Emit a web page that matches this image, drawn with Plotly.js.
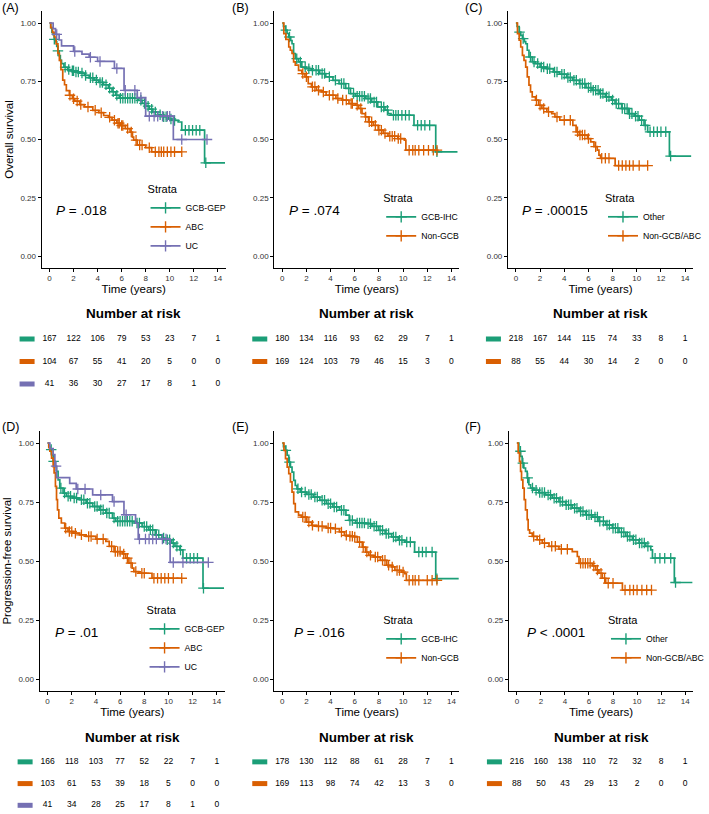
<!DOCTYPE html>
<html><head><meta charset="utf-8">
<script src="https://cdn.plot.ly/plotly-3.0.1.min.js"></script>
<style>html,body{margin:0;padding:0;background:#fff}#chart{width:709px;height:814px}</style>
</head><body><div id="chart"></div>
<script>
// ---------- DATA ----------
const riskTimes = [0, 2, 4, 6, 8, 10, 12, 14];

// Panel A: Overall survival by GEP
const A_GCB_GEP_t = [0,0.1,0.2,0.3,0.4,0.5,0.6,0.7,0.8,0.9,1.0,1.2,1.5,1.8,2.1,2.5,2.9,3.3,3.7,4.1,4.5,4.9,5.2,5.5,5.8,7.4,7.7,8.0,8.3,8.6,9.0,9.4,9.9,10.3,10.7,11.0,12.9,14.6];
const A_GCB_GEP_s = [1.0,0.98,0.96,0.95,0.93,0.92,0.9,0.88,0.86,0.84,0.826,0.81,0.80,0.795,0.79,0.785,0.775,0.765,0.755,0.745,0.735,0.72,0.705,0.69,0.677,0.668,0.655,0.643,0.63,0.618,0.606,0.598,0.588,0.582,0.575,0.54,0.40,0.40];
const A_GCB_GEP_cens = [0.4,0.7,1.3,1.6,1.9,2.0,2.2,2.4,2.7,3.0,3.4,3.6,3.9,4.2,4.4,4.7,5.0,5.3,5.6,5.9,6.1,6.3,6.5,6.7,6.9,7.1,7.3,7.6,7.9,8.2,8.5,8.8,9.2,9.5,9.7,10.1,10.4,11.3,11.6,11.9,12.2,12.5,13.0];
const A_ABC_t = [0,0.1,0.25,0.4,0.55,0.7,0.82,0.95,1.1,1.25,1.4,1.65,1.9,2.1,2.5,2.9,3.6,4.1,4.5,4.9,5.2,5.6,5.9,6.3,6.7,6.9,7.0,7.3,8.0,8.5,11.0];
const A_ABC_s = [1.0,0.98,0.96,0.94,0.91,0.87,0.84,0.80,0.755,0.735,0.71,0.69,0.675,0.665,0.65,0.64,0.625,0.615,0.603,0.595,0.583,0.57,0.56,0.547,0.532,0.51,0.497,0.476,0.465,0.447,0.447];
const A_ABC_cens = [1.7,2.0,2.3,2.6,3.2,3.8,4.3,5.0,5.4,5.7,5.8,6.0,6.1,6.5,6.8,7.2,7.5,7.7,8.3,8.8,9.1,9.3,9.5,9.8,10.1,10.4,11.0];
const A_UC_t = [0,0.3,0.5,0.8,1.0,2.0,2.7,3.3,4.0,5.4,6.2,7.3,8.0,10.3,13.1];
const A_UC_s = [1.0,0.976,0.951,0.927,0.902,0.878,0.866,0.853,0.835,0.805,0.711,0.68,0.60,0.50,0.50];
const A_UC_cens = [0.6,2.1,3.4,4.2,5.6,6.3,7.1,7.6,8.3,8.7,9.0,9.4,9.8,10.0,11.0,13.1];
const A_risk_GCB_GEP = [167,122,106,79,53,23,7,1];
const A_risk_ABC = [104,67,55,41,20,5,0,0];
const A_risk_UC = [41,36,30,27,17,8,1,0];

// Panel B: Overall survival by IHC
const B_GCB_IHC_t = [0,0.1,0.27,0.4,0.54,0.7,0.81,0.94,1.08,1.35,1.62,2.0,2.4,3.1,3.6,4.2,4.7,5.25,5.65,6.06,6.9,7.4,7.9,8.5,8.75,9.0,10.9,12.7,14.5];
const B_GCB_IHC_s = [1.0,0.985,0.969,0.955,0.94,0.925,0.911,0.869,0.847,0.833,0.811,0.804,0.797,0.783,0.769,0.754,0.74,0.719,0.697,0.686,0.676,0.661,0.64,0.626,0.611,0.604,0.561,0.447,0.447];
const B_GCB_IHC_cens = [0.3,0.6,1.2,1.5,1.9,2.2,2.5,2.8,3.0,3.3,3.5,3.9,4.4,4.9,5.1,5.5,5.9,6.2,6.4,6.6,6.8,7.1,7.3,7.6,7.8,8.2,8.4,8.7,9.2,9.4,9.6,9.9,10.2,10.5,11.2,11.5,11.8,12.2,12.8];
const B_NonGCB_t = [0,0.13,0.3,0.54,0.67,0.81,0.94,1.08,1.35,1.62,1.88,2.15,2.42,2.83,3.23,3.63,4.44,4.98,5.52,6.06,6.33,6.6,6.87,7.14,7.54,7.94,8.35,8.75,9.56,10.1,10.23,12.8];
const B_NonGCB_s = [1.0,0.954,0.93,0.897,0.883,0.869,0.833,0.819,0.797,0.783,0.769,0.74,0.726,0.711,0.704,0.69,0.676,0.669,0.654,0.647,0.633,0.611,0.597,0.576,0.561,0.54,0.526,0.514,0.504,0.497,0.454,0.454];
const B_NonGCB_cens = [1.7,2.0,2.5,2.7,3.0,3.4,3.9,4.2,4.6,5.0,5.3,5.7,5.8,6.2,6.5,6.9,7.2,7.4,7.7,8.0,8.2,8.5,8.9,9.1,9.3,9.6,9.8,10.5,10.8,11.0,11.3,11.7,12.1,12.5,12.8];
const B_risk_GCB_IHC = [180,134,116,93,62,29,7,1];
const B_risk_NonGCB = [169,124,103,79,46,15,3,0];

// Panel C: Overall survival, Other vs Non-GCB/ABC
const C_Other_t = [0,0.1,0.27,0.4,0.54,0.7,0.81,0.94,1.08,1.35,1.62,2.0,2.56,3.1,3.6,4.2,4.7,5.25,5.8,6.3,6.9,7.4,7.9,8.2,8.75,9.3,9.8,10.2,10.6,10.9,12.7,14.5];
const C_Other_s = [1.0,0.985,0.961,0.947,0.933,0.92,0.911,0.883,0.854,0.833,0.826,0.811,0.804,0.79,0.78,0.766,0.754,0.74,0.723,0.711,0.697,0.683,0.669,0.654,0.633,0.611,0.6,0.583,0.561,0.533,0.429,0.429];
const C_Other_cens = [0.3,0.6,1.2,1.5,1.8,2.1,2.3,2.6,2.8,3.2,3.4,3.8,4.0,4.3,4.5,4.8,5.0,5.3,5.5,5.7,6.0,6.2,6.4,6.6,6.8,7.0,7.2,7.5,7.7,8.0,8.3,8.5,8.8,9.0,9.2,9.4,9.6,9.9,10.1,10.4,10.7,11.1,11.4,11.7,12.0,12.4,12.8];
const C_NonGCBABC_t = [0,0.13,0.27,0.4,0.54,0.67,0.81,0.94,1.08,1.21,1.35,1.62,1.88,2.15,2.56,2.96,3.23,3.63,4.71,4.98,5.25,5.92,6.19,6.46,6.73,6.87,7.0,8.21,10.9];
const C_NonGCBABC_s = [1.0,0.954,0.926,0.897,0.861,0.84,0.811,0.769,0.733,0.704,0.683,0.669,0.647,0.633,0.619,0.611,0.597,0.583,0.561,0.533,0.519,0.504,0.49,0.469,0.454,0.433,0.419,0.388,0.388];
const C_NonGCBABC_cens = [1.7,2.0,2.3,2.7,3.4,4.0,4.5,5.1,5.3,5.5,5.7,6.0,6.6,7.1,7.4,7.7,8.5,8.8,9.1,9.4,9.7,10.2,10.9];
const C_risk_Other = [218,167,144,115,74,33,8,1];
const C_risk_NonGCBABC = [88,55,44,30,14,2,0,0];

// Panel D: Progression-free survival by GEP
const D_GCB_GEP_t = [0,0.1,0.19,0.33,0.46,0.6,0.74,0.87,1.01,1.28,1.55,2.1,2.64,3.19,3.73,4.28,4.82,5.37,5.64,7.28,7.82,8.37,8.91,9.46,9.73,10.27,10.54,10.95,11.2,12.86,14.6];
const D_GCB_GEP_s = [1.0,0.985,0.972,0.95,0.922,0.90,0.88,0.844,0.809,0.788,0.774,0.767,0.76,0.745,0.731,0.717,0.703,0.682,0.668,0.661,0.646,0.632,0.611,0.597,0.59,0.576,0.562,0.547,0.512,0.385,0.385];
const D_GCB_GEP_cens = [0.3,0.5,1.1,1.4,1.7,1.9,2.2,2.4,2.8,3.0,3.3,3.5,3.9,4.1,4.4,4.6,4.9,5.1,5.5,5.8,6.0,6.2,6.4,6.6,6.8,7.0,7.4,7.6,8.0,8.2,8.5,8.7,9.0,9.2,9.6,9.9,10.1,10.4,10.7,11.0,11.5,11.8,12.1,12.4,12.9];
const D_ABC_t = [0,0.1,0.19,0.33,0.46,0.54,0.65,0.74,0.82,0.93,1.14,1.42,1.69,2.1,2.64,3.19,4.0,4.82,5.1,5.5,6.19,6.46,6.73,7.0,7.14,7.55,8.64,11.1];
const D_ABC_s = [1.0,0.98,0.965,0.936,0.90,0.873,0.816,0.76,0.717,0.682,0.661,0.639,0.625,0.618,0.611,0.604,0.593,0.583,0.562,0.54,0.53,0.512,0.491,0.47,0.455,0.448,0.427,0.427];
const D_ABC_cens = [1.5,1.8,2.0,2.3,2.8,3.4,3.6,4.1,4.6,5.3,5.6,5.8,6.0,6.3,6.6,6.9,7.3,7.8,8.0,8.8,9.1,9.4,9.7,10.0,10.4,11.1];
const D_UC_t = [0,0.19,0.46,0.6,0.74,1.83,2.37,3.73,5.37,6.32,7.28,7.5,10.14,13.3];
const D_UC_s = [1.0,0.976,0.951,0.902,0.853,0.829,0.805,0.78,0.752,0.696,0.66,0.593,0.494,0.494];
const D_UC_cens = [0.7,2.5,3.1,4.4,5.5,6.5,7.6,8.1,8.4,8.7,9.0,9.5,9.8,10.4,11.2,13.3];
const D_risk_GCB_GEP = [166,118,103,77,52,22,7,1];
const D_risk_ABC = [103,61,53,39,18,5,0,0];
const D_risk_UC = [41,34,28,25,17,8,1,0];

// Panel E: Progression-free survival by IHC
const E_GCB_IHC_t = [0,0.1,0.27,0.41,0.54,0.68,0.81,0.95,1.08,1.22,1.49,2.03,2.57,3.11,3.65,4.19,4.73,5.27,5.54,6.08,6.89,7.43,7.97,8.51,9.05,9.59,10.14,10.95,12.7,14.6];
const E_GCB_IHC_s = [1.0,0.985,0.969,0.948,0.919,0.898,0.877,0.842,0.82,0.806,0.792,0.782,0.771,0.757,0.743,0.729,0.715,0.694,0.672,0.661,0.658,0.647,0.63,0.616,0.602,0.588,0.58,0.538,0.425,0.425];
const E_GCB_IHC_cens = [0.3,0.6,1.3,1.6,1.9,2.2,2.4,2.7,2.9,3.3,3.5,3.8,4.0,4.3,4.5,4.9,5.1,5.6,5.8,6.2,6.4,6.6,6.8,7.1,7.3,7.6,7.8,8.1,8.3,8.6,8.8,9.2,9.4,9.7,9.9,10.3,10.6,11.3,11.6,11.9,12.4,12.8];
const E_NonGCB_t = [0,0.14,0.27,0.41,0.54,0.68,0.81,0.95,1.08,1.35,1.62,2.03,2.43,2.84,3.65,4.19,4.73,5.14,5.54,5.95,6.22,6.62,6.89,7.16,7.57,8.11,8.65,9.05,9.32,9.86,10.14,10.27,12.84];
const E_NonGCB_s = [1.0,0.969,0.934,0.898,0.87,0.835,0.792,0.743,0.708,0.694,0.686,0.665,0.651,0.647,0.64,0.637,0.623,0.609,0.605,0.602,0.58,0.559,0.538,0.524,0.517,0.503,0.482,0.475,0.46,0.453,0.446,0.418,0.418];
const E_NonGCB_cens = [1.7,1.9,2.2,2.5,3.0,3.3,3.8,4.0,4.4,4.9,5.3,5.6,5.8,6.0,6.4,6.7,7.0,7.3,7.7,7.9,8.3,8.5,8.8,9.1,9.5,9.7,10.0,10.5,10.8,11.0,11.3,12.0,12.4,12.8];
const E_risk_GCB_IHC = [178,130,112,88,61,28,7,1];
const E_risk_NonGCB = [169,113,98,74,42,13,3,0];

// Panel F: Progression-free survival, Other vs Non-GCB/ABC
const F_Other_t = [0,0.17,0.31,0.44,0.58,0.72,0.86,1.0,1.14,1.42,1.83,2.39,2.94,3.5,4.06,4.61,5.17,5.72,6.28,6.83,7.39,7.94,8.5,9.06,9.61,10.17,10.72,11.14,11.28,13.1,14.6];
const F_Other_s = [1.0,0.965,0.943,0.915,0.894,0.88,0.852,0.823,0.809,0.80,0.79,0.78,0.766,0.752,0.738,0.724,0.71,0.696,0.686,0.668,0.653,0.639,0.621,0.604,0.59,0.576,0.562,0.547,0.512,0.409,0.409];
const F_Other_cens = [0.3,0.5,0.9,1.3,1.6,1.9,2.1,2.3,2.6,2.8,3.1,3.3,3.6,3.8,4.1,4.3,4.5,4.8,5.0,5.3,5.5,5.8,6.0,6.2,6.5,6.7,6.9,7.2,7.5,7.7,8.0,8.2,8.4,8.7,8.9,9.2,9.4,9.7,9.9,10.2,10.4,10.6,10.9,11.5,11.9,12.3,12.8,13.2];
const F_NonGCBABC_t = [0,0.11,0.22,0.31,0.39,0.5,0.61,0.72,0.86,0.94,1.06,1.28,1.69,2.11,2.67,3.5,4.61,5.03,5.17,6.28,6.56,6.83,7.11,7.39,8.78,11.2];
const F_NonGCBABC_s = [1.0,0.958,0.922,0.88,0.844,0.809,0.76,0.717,0.675,0.632,0.618,0.604,0.59,0.576,0.562,0.55,0.54,0.519,0.49,0.479,0.462,0.448,0.427,0.406,0.377,0.377];
const F_NonGCBABC_cens = [1.4,1.9,2.3,2.9,3.2,3.7,4.2,5.3,5.5,5.7,5.9,6.1,6.4,6.7,7.0,7.3,7.6,8.0,9.0,9.4,9.7,10.0,10.4,10.8,11.2];
const F_risk_Other = [216,160,138,110,72,32,8,1];
const F_risk_NonGCBABC = [88,50,43,29,13,2,0,0];

// ---------- STYLE / LAYOUT ----------
const W = 709, H = 814;
const FONT = 'Liberation Sans, Arial, Helvetica, sans-serif';
const GREEN = '#1B9E77', ORANGE = '#D95F02', PURPLE = '#7570B3';

const topY = [11.35, 267.65], botY = [431.2, 690.8];
const topRisk = {px: [327.75, 395.25], range: [3.5, 0.5]};
const botRisk = {px: [751, 814], range: [3.4, 0.5]};

const panels = [
  {tag: '(A)', tagXY: [0, 8], xpx: [42, 228], ypx: topY, ytitle: 'Overall survival', p: '<i>P</i> = .018', px: 0.07,
   leg: [147, 179], risk: topRisk, nr: 313,
   groups: [
     {name: 'GCB-GEP', color: GREEN, t: A_GCB_GEP_t, s: A_GCB_GEP_s, c: A_GCB_GEP_cens, n: A_risk_GCB_GEP},
     {name: 'ABC', color: ORANGE, t: A_ABC_t, s: A_ABC_s, c: A_ABC_cens, n: A_risk_ABC},
     {name: 'UC', color: PURPLE, t: A_UC_t, s: A_UC_s, c: A_UC_cens, n: A_risk_UC}]},
  {tag: '(B)', tagXY: [232, 8], xpx: [277, 464], ypx: topY, ytitle: '', p: '<i>P</i> = .074', px: 0.07,
   leg: [385, 188], risk: topRisk, nr: 313,
   groups: [
     {name: 'GCB-IHC', color: GREEN, t: B_GCB_IHC_t, s: B_GCB_IHC_s, c: B_GCB_IHC_cens, n: B_risk_GCB_IHC},
     {name: 'Non-GCB', color: ORANGE, t: B_NonGCB_t, s: B_NonGCB_s, c: B_NonGCB_cens, n: B_risk_NonGCB}]},
  {tag: '(C)', tagXY: [468, 8], xpx: [513, 700], ypx: topY, ytitle: '', p: '<i>P</i> = .00015', px: 0.065,
   leg: [609, 188], risk: topRisk, nr: 313,
   groups: [
     {name: 'Other', color: GREEN, t: C_Other_t, s: C_Other_s, c: C_Other_cens, n: C_risk_Other},
     {name: 'Non-GCB/ABC', color: ORANGE, t: C_NonGCBABC_t, s: C_NonGCBABC_s, c: C_NonGCBABC_cens, n: C_risk_NonGCBABC}]},
  {tag: '(D)', tagXY: [0, 427], xpx: [40, 227], ypx: botY, ytitle: 'Progression-free survival', p: '<i>P</i> = .01', px: 0.075,
   leg: [146, 600], risk: botRisk, nr: 737,
   groups: [
     {name: 'GCB-GEP', color: GREEN, t: D_GCB_GEP_t, s: D_GCB_GEP_s, c: D_GCB_GEP_cens, n: D_risk_GCB_GEP},
     {name: 'ABC', color: ORANGE, t: D_ABC_t, s: D_ABC_s, c: D_ABC_cens, n: D_risk_ABC},
     {name: 'UC', color: PURPLE, t: D_UC_t, s: D_UC_s, c: D_UC_cens, n: D_risk_UC}]},
  {tag: '(E)', tagXY: [232, 427], xpx: [277, 464], ypx: botY, ytitle: '', p: '<i>P</i> = .016', px: 0.095,
   leg: [385, 610], risk: botRisk, nr: 737,
   groups: [
     {name: 'GCB-IHC', color: GREEN, t: E_GCB_IHC_t, s: E_GCB_IHC_s, c: E_GCB_IHC_cens, n: E_risk_GCB_IHC},
     {name: 'Non-GCB', color: ORANGE, t: E_NonGCB_t, s: E_NonGCB_s, c: E_NonGCB_cens, n: E_risk_NonGCB}]},
  {tag: '(F)', tagXY: [468, 427], xpx: [514, 700], ypx: botY, ytitle: '', p: '<i>P</i> &lt; .0001', px: 0.085,
   leg: [612, 610], risk: botRisk, nr: 737,
   groups: [
     {name: 'Other', color: GREEN, t: F_Other_t, s: F_Other_s, c: F_Other_cens, n: F_risk_Other},
     {name: 'Non-GCB/ABC', color: ORANGE, t: F_NonGCBABC_t, s: F_NonGCBABC_s, c: F_NonGCBABC_cens, n: F_risk_NonGCBABC}]}
];

function survAt(t, ts, ss) {
  let v = ss[0];
  for (let i = 0; i < ts.length; i++) { if (ts[i] <= t) v = ss[i]; }
  return v;
}
const sfx = k => (k === 1 ? '' : String(k));

const data = [];
const layout = {
  width: W, height: H, margin: {l: 0, r: 0, t: 0, b: 0},
  paper_bgcolor: '#fff', plot_bgcolor: 'rgba(0,0,0,0)',
  font: {family: FONT, color: '#000'},
  showlegend: true, annotations: [], shapes: []
};

const axisCommon = {
  showline: true, linecolor: '#000', linewidth: 1, ticks: 'outside', ticklen: 3, tickwidth: 1,
  tickcolor: '#000', showgrid: false, zeroline: false, automargin: false, fixedrange: true,
  tickfont: {family: FONT, size: 8, color: '#333'}
};

panels.forEach((P, i) => {
  const k = i + 1, r = i + 7;
  const xs = sfx(k), rs = String(r);
  const xd = [P.xpx[0] / W, P.xpx[1] / W];
  const xRange = [-0.66, 14.66];

  layout['xaxis' + xs] = Object.assign({}, axisCommon, {
    domain: xd, range: xRange, anchor: 'y' + xs, tickvals: riskTimes,
    title: {text: 'Time (years)', font: {family: FONT, size: 11.5, color: '#000'}, standoff: 2}
  });
  layout['yaxis' + xs] = Object.assign({}, axisCommon, {
    domain: [1 - P.ypx[1] / H, 1 - P.ypx[0] / H], range: [-0.05, 1.05], anchor: 'x' + xs,
    tickvals: [0, 0.25, 0.5, 0.75, 1], tickformat: '.2f',
    title: {text: P.ytitle, font: {family: FONT, size: 11.5, color: '#000'}, standoff: 4}
  });
  layout['xaxis' + rs] = {domain: xd, range: xRange, anchor: 'y' + rs, visible: false, fixedrange: true};
  layout['yaxis' + rs] = {domain: [1 - P.risk.px[1] / H, 1 - P.risk.px[0] / H], range: P.risk.range,
                          anchor: 'x' + rs, visible: false, fixedrange: true};

  const legName = 'legend' + xs;
  layout[legName] = {
    x: P.leg[0] / W, y: 1 - P.leg[1] / H, xanchor: 'left', yanchor: 'top',
    bgcolor: 'rgba(0,0,0,0)', borderwidth: 0, itemwidth: 30, tracegroupgap: 0, traceorder: 'normal',
    font: {family: FONT, size: 8.7, color: '#000'},
    title: {text: 'Strata', font: {family: FONT, size: 11, color: '#000'}}
  };

  P.groups.forEach((g, j) => {
    data.push({
      type: 'scatter', x: g.t, y: g.s, mode: 'lines', line: {shape: 'hv', color: g.color, width: 1.7},
      xaxis: 'x' + xs, yaxis: 'y' + xs, showlegend: false, hoverinfo: 'skip'
    });
    data.push({
      type: 'scatter', x: g.c, y: g.c.map(t => survAt(t, g.t, g.s)), mode: 'markers',
      marker: {symbol: 'cross-thin-open', size: 7.5, color: g.color, line: {width: 1.3, color: g.color}},
      xaxis: 'x' + xs, yaxis: 'y' + xs, showlegend: false, hoverinfo: 'skip'
    });
    data.push({
      type: 'scatter', x: [null], y: [null], mode: 'lines+markers', name: g.name,
      line: {color: g.color, width: 1.7},
      marker: {symbol: 'cross-thin-open', size: 8, color: g.color, line: {width: 1.4, color: g.color}},
      xaxis: 'x' + xs, yaxis: 'y' + xs, legend: legName, showlegend: true
    });
    data.push({
      type: 'scatter', x: riskTimes, y: riskTimes.map(() => j + 1), text: g.n.map(String), mode: 'text',
      textfont: {family: FONT, size: 8.5, color: '#000'}, xaxis: 'x' + rs, yaxis: 'y' + rs,
      showlegend: false, hoverinfo: 'skip', cliponaxis: false
    });
    layout.shapes.push({
      type: 'rect', xref: 'paper', xsizemode: 'pixel', xanchor: xd[0], x0: -22, x1: -7,
      yref: 'y' + rs, ysizemode: 'pixel', yanchor: j + 1, y0: -2.5, y1: 2.5,
      fillcolor: g.color, line: {width: 0}
    });
  });

  layout.annotations.push({
    xref: 'paper', yref: 'paper', x: P.tagXY[0] / W, y: 1 - P.tagXY[1] / H, xanchor: 'left', yanchor: 'middle',
    text: P.tag, showarrow: false, font: {family: FONT, size: 12.5, color: '#000'}
  });
  layout.annotations.push({
    xref: 'x' + xs + ' domain', yref: 'y' + xs, x: P.px, y: 0.195, xanchor: 'left', yanchor: 'middle',
    text: P.p, showarrow: false, font: {family: FONT, size: 13.5, color: '#000'}
  });
  layout.annotations.push({
    xref: 'x' + xs, yref: 'paper', x: 7, y: 1 - P.nr / H, xanchor: 'center', yanchor: 'middle',
    text: '<b>Number at risk</b>', showarrow: false, font: {family: FONT, size: 13.5, color: '#000'}
  });
});

Plotly.newPlot('chart', data, layout, {staticPlot: true, displayModeBar: false});
</script></body></html>
